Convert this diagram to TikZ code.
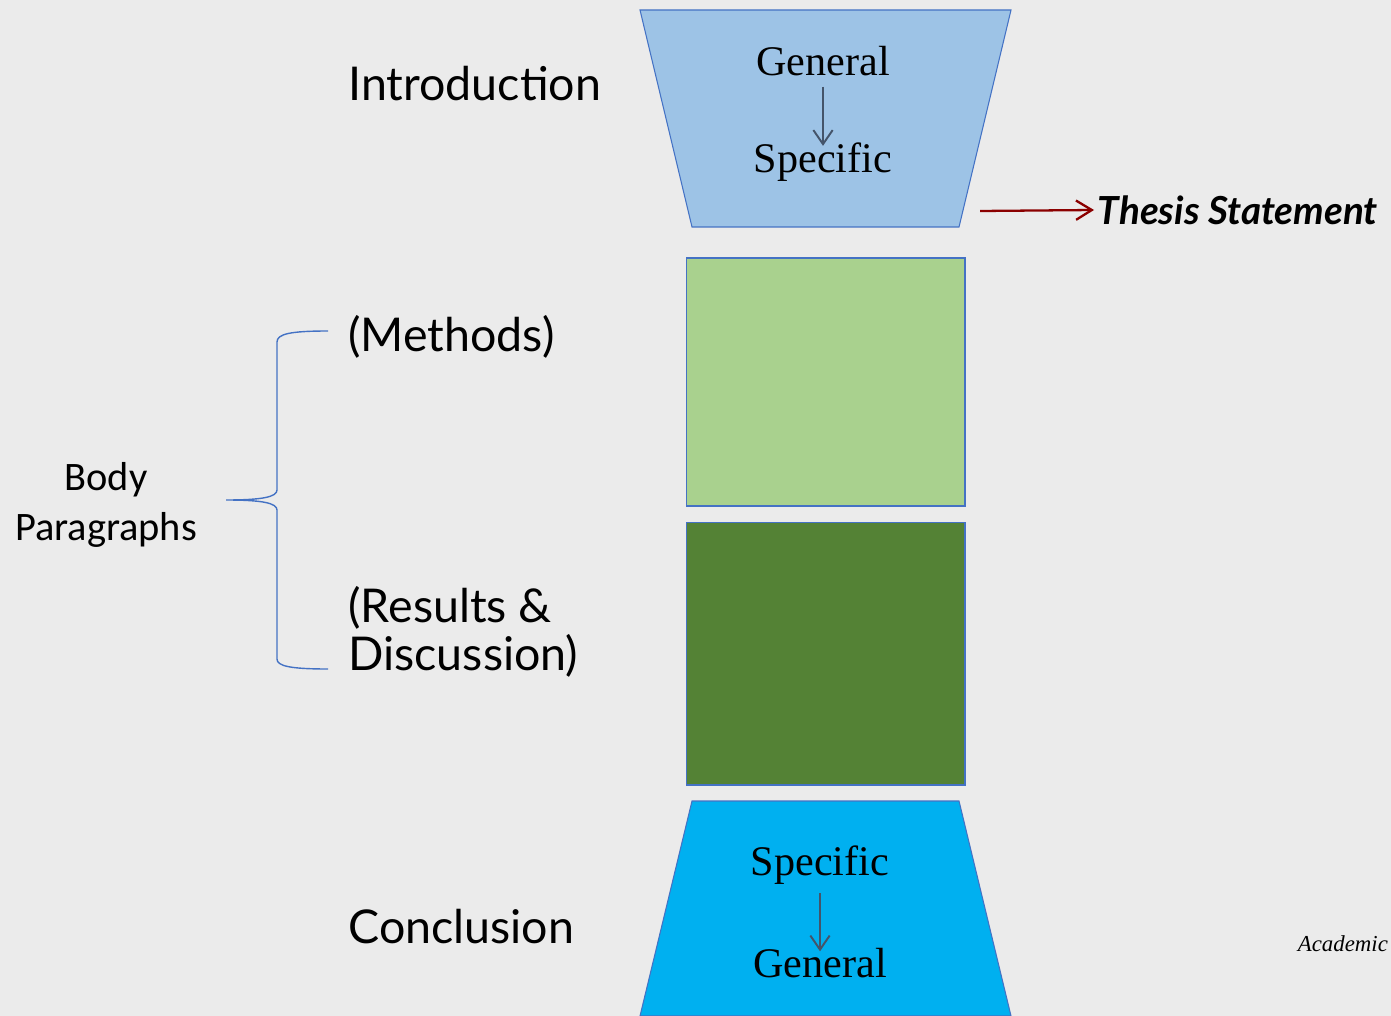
\documentclass[tikz,border=0pt]{standalone}
\usepackage{fontspec}
\setmainfont{Liberation Serif}
\newfontfamily\gillfont{Lato}
\newfontfamily\calfont{Carlito}
\usepackage{xcolor}
\usepackage{tikz}
\usetikzlibrary{arrows.meta, positioning, calc}

\definecolor{pageback}{HTML}{EBEBEB}
\definecolor{edgeblue}{HTML}{4472C4}
\definecolor{introblue}{HTML}{9DC3E6}
\definecolor{conclblue}{HTML}{00B0F0}
\definecolor{lightgreen}{HTML}{A9D18E}
\definecolor{darkgreen}{HTML}{548235}
\definecolor{slate}{HTML}{44546A}
\definecolor{thesisred}{HTML}{8B0000}

\begin{document}
\begin{tikzpicture}[x=0.02cm, y=-0.02cm]
    \tikzset{
        part/.style={font=\gillfont\fontsize{26.5}{33}\selectfont, anchor=west, inner sep=0pt, align=left},
        word/.style={font=\fontsize{24}{28}\selectfont, inner sep=0pt},
        body/.style={draw=edgeblue, line width=0.6pt, minimum width=5.58cm, inner sep=0pt},
        funnel/.style={draw=edgeblue, line width=0.6pt},
        flow/.style={draw=slate, line width=1.1pt, -{Straight Barb[length=8pt, width=11pt]}},
        brace/.style={draw=edgeblue, line width=0.8pt}
    }
    \useasboundingbox (0,0) rectangle (1391,1016);
    \fill[pageback] (0,0) rectangle (1391,1016);

    % funnel shapes
    \path[funnel, fill=introblue] (640,10) -- (1011,10) -- (959,227) -- (692,227) -- cycle;
    \path[funnel, fill=conclblue] (692,801) -- (959,801) -- (1011,1016) -- (640,1016) -- cycle;

    \node (Methods) [body, fill=lightgreen, minimum height=4.96cm] at (825.5,382) {};
    \node (Results) [body, fill=darkgreen, minimum height=5.26cm] at (825.5,653.5) {};

    \node (Gen1) [word] at (823,61) {General};
    \node (Spec1) [word] at (823,162) {Specific};
    \node (Spec2) [word] at (820,865) {Specific};
    \node (Gen2) [word] at (820,963) {General};

    \path [flow, shorten <=6pt, shorten >=-2pt] (Gen1.south) -- (Spec1.north);
    \path [flow, shorten <=5pt, shorten >=-2pt] (Spec2.south) -- (Gen2.north);

    \node (IntroLabel) [part] at (348,84) {Introduction};
    \node (MethodsLabel) [part] at (348,337) {(Methods)};
    \node (ResultsLabel) [part, font=\gillfont\fontsize{26.5}{27.2}\selectfont] at (348,632) {(Results \&\\Discussion)};
    \node (ConclLabel) [part] at (348,927) {Conclusion};

    \node (Thesis) [anchor=west, inner sep=2pt, font=\gillfont\bfseries\itshape\fontsize{22}{26}\selectfont] at (1094,210) {Thesis Statement};
    \coordinate (ThesisStart) at (980,211);
    \path [draw=thesisred, line width=1.3pt, -{Straight Barb[length=9pt, width=11pt]}] (ThesisStart) -- (Thesis.west);

    \node (Body) [font=\calfont\fontsize{23}{28.4}\selectfont, align=center] at (106,505) {Body\\Paragraphs};

    % brace
    \coordinate (BraceTip) at (226,500);
    \path[brace] (328,331) .. controls (290,331) and (277,334) .. (277,342)
        -- (277,490) .. controls (277,497) and (262,500) .. (BraceTip)
        .. controls (262,500) and (277,503) .. (277,510)
        -- (277,659) .. controls (277,666) and (290,669) .. (328,669);

    \node (Source) [anchor=east, inner sep=1pt, font=\itshape\fontsize{13}{15}\selectfont] at (1390,944) {Academic};
\end{tikzpicture}
\end{document}
